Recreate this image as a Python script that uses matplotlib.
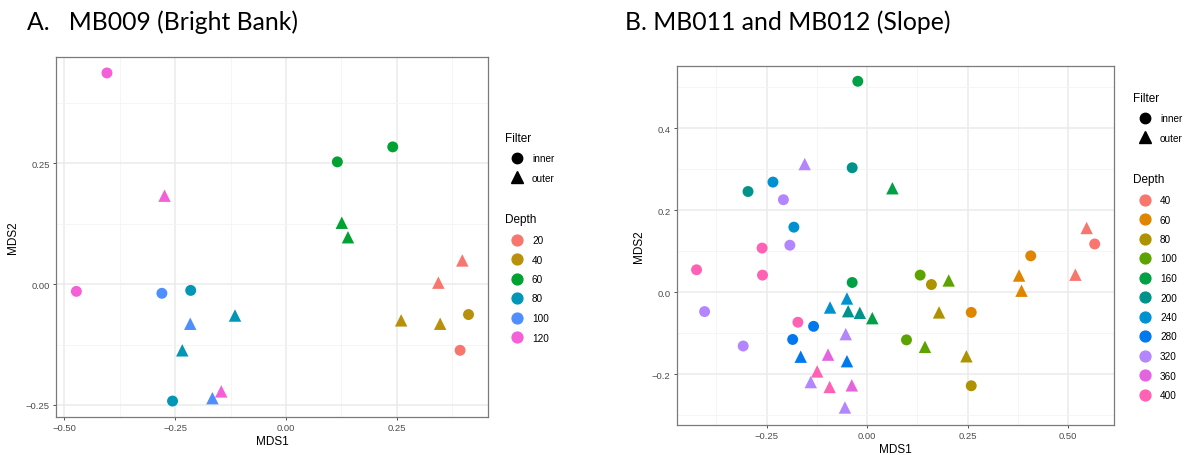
"""NMDS ordination of eDNA samples by depth and filter type."""

import matplotlib

matplotlib.use("Agg")
import matplotlib.pyplot as plt
from matplotlib.lines import Line2D

FIG_W, FIG_H = 1187, 456
SANS = ["Liberation Sans", "DejaVu Sans"]
HEADING = ["Lato", "DejaVu Sans"]

SHAPES = {"inner": "o", "outer": "^"}
SIZES = {"inner": 62, "outer": 80}

# A. MB009 (Bright Bank)
depth_levels_a = [20, 40, 60, 80, 100, 120]
depth_colors_a = ["#F8766D", "#B8900A", "#00A331", "#0096B7", "#4F8EFF", "#F55FD8"]
depth_a = [120, 120, 120, 100, 80, 100, 80, 80, 120, 100, 80,
           60, 60, 60, 60, 20, 20, 40, 40, 40, 20]
filter_a = ["inner", "outer", "inner", "inner", "inner", "outer", "outer", "outer",
            "outer", "outer", "inner", "inner", "inner", "outer", "outer", "outer",
            "outer", "inner", "outer", "outer", "inner"]
mds1_a = [-0.404, -0.274, -0.473, -0.280, -0.215, -0.216, -0.115, -0.234, -0.146,
          -0.166, -0.256, 0.241, 0.116, 0.126, 0.140, 0.398, 0.344, 0.412, 0.260,
          0.348, 0.393]
mds2_a = [0.437, 0.183, -0.015, -0.019, -0.013, -0.082, -0.065, -0.137, -0.222,
          -0.236, -0.242, 0.284, 0.253, 0.127, 0.097, 0.049, 0.003, -0.063, -0.075,
          -0.082, -0.137]

# B. MB011 and MB012 (Slope)
depth_levels_b = [40, 60, 80, 100, 160, 200, 240, 280, 320, 360, 400]
depth_colors_b = ["#F8766D", "#E08500", "#AE9200", "#5DA300", "#00A046", "#00938A",
                  "#0092D0", "#0079EE", "#B385FF", "#E464E0", "#FF62B4"]
depth_b = [160, 320, 200, 200, 240, 320, 240, 320, 400, 400, 400, 160, 320, 320,
           400, 280, 280, 280, 360, 400, 320, 400, 360, 320, 280, 320, 240, 240,
           200, 200, 160, 160, 40, 40, 60, 40, 60, 60, 100, 80, 100, 80, 60, 100,
           100, 80, 80]
filter_b = ["inner", "outer", "inner", "inner", "inner", "inner", "inner", "inner",
            "inner", "inner", "inner", "inner", "inner", "inner", "inner", "inner",
            "inner", "outer", "outer", "outer", "outer", "outer", "outer", "outer",
            "outer", "outer", "outer", "outer", "outer", "outer", "outer", "outer",
            "outer", "inner", "inner", "outer", "outer", "outer", "inner", "inner",
            "outer", "outer", "inner", "inner", "outer", "outer", "inner"]
mds1_b = [-0.023, -0.155, -0.037, -0.296, -0.234, -0.208, -0.182, -0.192, -0.261,
          -0.424, -0.260, -0.037, -0.404, -0.308, -0.172, -0.133, -0.185, -0.165,
          -0.097, -0.124, -0.140, -0.093, -0.038, -0.055, -0.050, -0.053, -0.092,
          -0.050, -0.047, -0.018, 0.013, 0.063, 0.546, 0.566, 0.407, 0.518, 0.378,
          0.384, 0.132, 0.160, 0.203, 0.179, 0.259, 0.098, 0.144, 0.247, 0.259]
mds2_b = [0.515, 0.313, 0.304, 0.246, 0.269, 0.226, 0.159, 0.115, 0.108, 0.055,
          0.042, 0.024, -0.047, -0.131, -0.073, -0.083, -0.115, -0.157, -0.152,
          -0.193, -0.219, -0.231, -0.227, -0.281, -0.168, -0.102, -0.037, -0.015,
          -0.046, -0.050, -0.063, 0.254, 0.157, 0.118, 0.089, 0.043, 0.041, 0.004,
          0.042, 0.019, 0.029, -0.049, -0.049, -0.116, -0.133, -0.156, -0.228]


def px_box(left, top, right, bottom):
    """Pixel box -> figure fraction rect."""
    return [left / FIG_W, 1 - bottom / FIG_H, (right - left) / FIG_W, (bottom - top) / FIG_H]


def minus(text):
    return text.replace("-", "\u2212")


def style_axes(ax, xlim, ylim, xticks, yticks, xminor, yminor, yfmt):
    ax.set_xlim(*xlim)
    ax.set_ylim(*ylim)
    ax.set_xticks(xticks)
    ax.set_yticks(yticks)
    ax.set_xticks(xminor, minor=True)
    ax.set_yticks(yminor, minor=True)
    ax.set_xticklabels([minus(f"{t:.2f}") for t in xticks], family=SANS)
    ax.set_yticklabels([minus(yfmt.format(t)) for t in yticks], family=SANS)
    ax.grid(True, which="major", color="#EBEBEB", linewidth=1.1)
    ax.grid(True, which="minor", color="#F4F4F4", linewidth=0.6)
    ax.set_axisbelow(True)
    for spine in ax.spines.values():
        spine.set_color("#7A7A7A")
        spine.set_linewidth(0.9)
    ax.tick_params(which="major", length=2.5, width=0.6, color="#333333",
                   labelsize=6.8, labelcolor="#4D4D4D", pad=2)
    ax.tick_params(which="minor", length=0)
    ax.set_xlabel("MDS1", family=SANS, fontsize=8.5, labelpad=2)
    ax.set_ylabel("MDS2", family=SANS, fontsize=8.5, labelpad=5)


def draw_points(ax, levels, colors, depth, filt, mds1, mds2):
    color_of = dict(zip(levels, colors))
    for d, f, x, y in zip(depth, filt, mds1, mds2):
        ax.scatter(x, y, s=SIZES[f], marker=SHAPES[f], color=color_of[d],
                   edgecolors="none", zorder=3)


def add_legends(ax, levels, colors, left_px, top_px):
    kw = dict(frameon=False, loc="upper left", alignment="left", borderpad=0,
              borderaxespad=0, handlelength=2.4, handletextpad=0.3,
              labelspacing=0.95, prop={"family": SANS, "size": 7.2},
              title_fontproperties={"family": SANS, "size": 8.5},
              bbox_transform=ax.figure.transFigure)
    filt_handles = [Line2D([], [], linestyle="none", marker=SHAPES[f], color="black",
                           markersize=7.5 if f == "inner" else 8.5) for f in SHAPES]
    leg1 = ax.legend(filt_handles, list(SHAPES), title="Filter",
                     bbox_to_anchor=(left_px / FIG_W, 1 - top_px / FIG_H), **kw)
    ax.add_artist(leg1)
    depth_handles = [Line2D([], [], linestyle="none", marker="o", color=c, markersize=7.8)
                     for c in colors]
    ax.legend(depth_handles, [str(v) for v in levels], title="Depth",
              bbox_to_anchor=(left_px / FIG_W, 1 - (top_px + 82) / FIG_H), **kw)


fig = plt.figure(figsize=(FIG_W / 100, FIG_H / 100), dpi=100)

ax_a = fig.add_axes(px_box(56, 58, 488, 418))
draw_points(ax_a, depth_levels_a, depth_colors_a, depth_a, filter_a, mds1_a, mds2_a)
style_axes(ax_a, (-0.519, 0.456), (-0.275, 0.470),
           [-0.50, -0.25, 0.00, 0.25], [-0.25, 0.00, 0.25],
           [-0.375, -0.125, 0.125, 0.375], [-0.125, 0.125, 0.375], "{:.2f}")
add_legends(ax_a, depth_levels_a, depth_colors_a, 505, 132.5)

ax_b = fig.add_axes(px_box(677, 66.7, 1114, 425.7))
draw_points(ax_b, depth_levels_b, depth_colors_b, depth_b, filter_b, mds1_b, mds2_b)
style_axes(ax_b, (-0.4726, 0.614), (-0.323, 0.553),
           [-0.25, 0.00, 0.25, 0.50], [-0.2, 0.0, 0.2, 0.4],
           [-0.375, -0.125, 0.125, 0.375], [-0.3, -0.1, 0.1, 0.3, 0.5], "{:.1f}")
add_legends(ax_b, depth_levels_b, depth_colors_b, 1133, 92.5)

fig.text(27 / FIG_W, 1 - 22 / FIG_H, "A.   MB009 (Bright Bank)", family=HEADING,
         fontsize=17.8, va="center", ha="left")
fig.text(625 / FIG_W, 1 - 22 / FIG_H, "B. MB011 and MB012 (Slope)", family=HEADING,
         fontsize=17.8, va="center", ha="left")

fig.savefig("out.png", dpi=100, facecolor="white")
